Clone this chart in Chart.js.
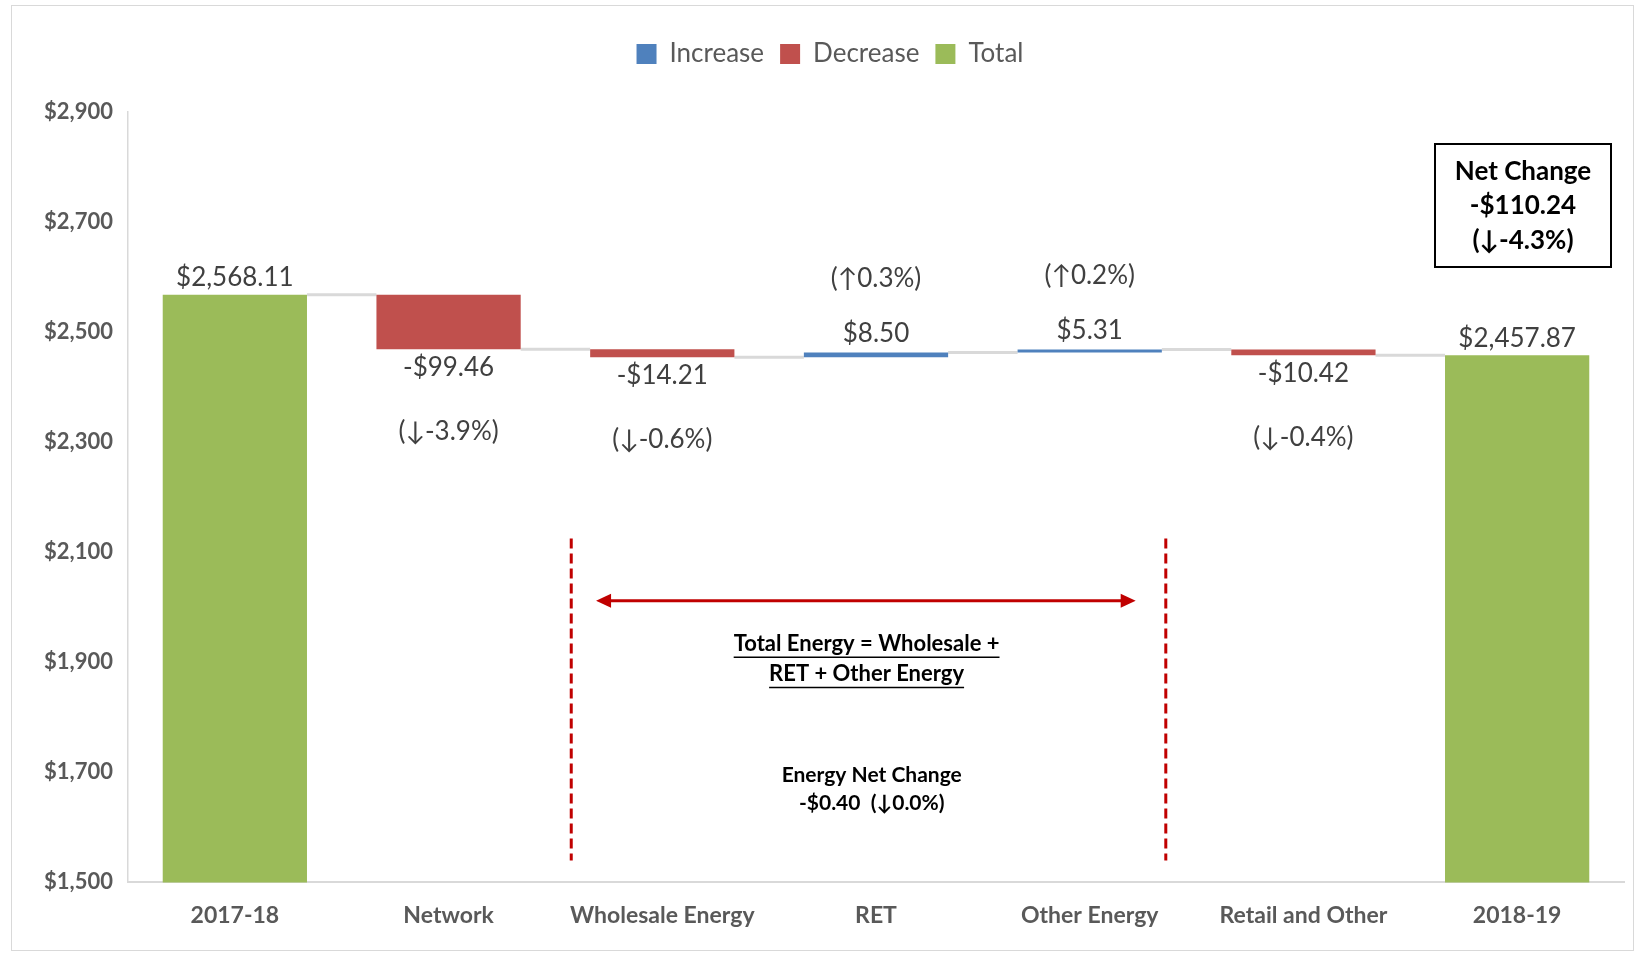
<!DOCTYPE html>
<html>
<head>
<meta charset="utf-8">
<script src="https://cdn.jsdelivr.net/npm/chart.js@4.4.1/dist/chart.umd.min.js"></script>
<style>
html, body { margin: 0; padding: 0; background: #fff; }
#wrap { width: 1637px; height: 953px; }
</style>
</head>
<body>
<div id="wrap"><canvas id="waterfallChart"></canvas></div>
<script>
// chart values
const categories = ['2017-18', 'Network', 'Wholesale Energy', 'RET', 'Other Energy', 'Retail and Other', '2018-19'];
const amounts = [2568.11, -99.46, -14.21, 8.50, 5.31, -10.42, 2457.87];
const isTotal = [true, false, false, false, false, false, true];
const energyGroup = ['Wholesale Energy', 'RET', 'Other Energy'];
const yTickValues = [1500, 1700, 1900, 2100, 2300, 2500, 2700, 2900];

const FONT = 'Lato, "DejaVu Sans", sans-serif';
const LABEL_COLOR = '#404040';
const RED_LINE = '#C00000';

function money(v) {
    const s = '$' + Math.abs(v).toLocaleString('en-US', {minimumFractionDigits: 2, maximumFractionDigits: 2});
    return v < 0 ? '-' + s : s;
}

function pct(v) {
    let p = (v / amounts[0] * 100).toFixed(1);
    if (p === '-0.0') p = '0.0';
    const arrow = v < 0 ? '\u2193' : '\u2191';
    return '(' + arrow + p + '%)';
}

// build the floating bars
const increaseData = categories.map(() => null);
const decreaseData = categories.map(() => null);
const totalData = categories.map(() => null);
const levels = [];
let running = 0;
amounts.forEach((v, i) => {
    if (isTotal[i]) {
        totalData[i] = v;
        running = v;
    } else {
        const start = running;
        const end = running + v;
        if (v >= 0) increaseData[i] = [start, end];
        else decreaseData[i] = [start, end];
        running = end;
    }
    levels.push(running);
});

const netChange = amounts[amounts.length - 1] - amounts[0];
const energyChange = energyGroup.reduce((s, c) => s + amounts[categories.indexOf(c)], 0);

// stretch legend height so plot starts lower
const legendSpacing = {
    id: 'legendSpacing',
    beforeInit(chart) {
        const fit = chart.legend.fit;
        chart.legend.fit = function() {
            fit.call(this);
            this.height += 35;
        };
    }
};

const frame = {
    id: 'frame',
    beforeDraw(chart) {
        const ctx = chart.ctx;
        ctx.save();
        ctx.fillStyle = '#fff';
        ctx.fillRect(0, 0, chart.width, chart.height);
        ctx.strokeStyle = '#d9d9d9';
        ctx.lineWidth = 1;
        ctx.strokeRect(11.5, 5.5, chart.width - 15, chart.height - 8);
        ctx.restore();
    }
};

const connectors = {
    id: 'connectors',
    beforeDatasetsDraw(chart) {
        const ctx = chart.ctx;
        const x = chart.scales.x, y = chart.scales.y;
        const step = x.getPixelForValue(1) - x.getPixelForValue(0);
        const barW = step * 0.675;
        ctx.save();
        ctx.strokeStyle = '#d9d9d9';
        ctx.lineWidth = 3;
        for (let i = 0; i < levels.length - 1; i++) {
            const py = y.getPixelForValue(levels[i]);
            ctx.beginPath();
            ctx.moveTo(x.getPixelForValue(i) + barW / 2, py);
            ctx.lineTo(x.getPixelForValue(i + 1) - barW / 2, py);
            ctx.stroke();
        }
        ctx.restore();
    }
};

function findBar(chart, i) {
    for (let d = 0; d < chart.data.datasets.length; d++) {
        if (chart.data.datasets[d].data[i] != null) return chart.getDatasetMeta(d).data[i];
    }
    return null;
}

const barLabels = {
    id: 'barLabels',
    afterDatasetsDraw(chart) {
        const ctx = chart.ctx;
        ctx.save();
        ctx.fillStyle = LABEL_COLOR;
        ctx.textAlign = 'center';
        ctx.textBaseline = 'middle';
        ctx.font = '26px ' + FONT;
        amounts.forEach((v, i) => {
            const bar = findBar(chart, i);
            const top = Math.min(bar.y, bar.base);
            const bottom = Math.max(bar.y, bar.base);
            if (isTotal[i]) {
                ctx.fillText(money(v), bar.x, top - 17);
            } else if (v >= 0) {
                ctx.fillText(money(v), bar.x, top - 19);
                ctx.fillText(pct(v), bar.x, top - 74);
            } else {
                ctx.fillText(money(v), bar.x, bottom + 18);
                ctx.fillText(pct(v), bar.x, bottom + 82);
            }
        });
        ctx.restore();
    }
};

const notes = {
    id: 'notes',
    afterDraw(chart) {
        const ctx = chart.ctx;
        const x = chart.scales.x, y = chart.scales.y;
        const area = chart.chartArea;
        ctx.save();

        // net change box
        const bw = 176, bh = 123;
        const bx = area.right - 13 - bw, by = area.top + 32;
        ctx.strokeStyle = '#000';
        ctx.lineWidth = 2;
        ctx.strokeRect(bx, by, bw, bh);
        ctx.fillStyle = '#000';
        ctx.textAlign = 'center';
        ctx.textBaseline = 'middle';
        ctx.font = 'bold 26px ' + FONT;
        const cx = bx + bw / 2;
        ctx.fillText('Net Change', cx, by + 28);
        ctx.fillText(money(netChange), cx, by + 62);
        ctx.fillText(pct(netChange), cx, by + 97);

        // dashed bracket lines round the energy group
        ctx.strokeStyle = RED_LINE;
        ctx.lineWidth = 3;
        ctx.setLineDash([10, 5]);
        [1.574, 4.356].forEach(ix => {
            const px = x.getPixelForValue(ix);
            ctx.beginPath();
            ctx.moveTo(px, y.getPixelForValue(2125));
            ctx.lineTo(px, y.getPixelForValue(1540));
            ctx.stroke();
        });
        ctx.setLineDash([]);

        // double arrow
        const ay = y.getPixelForValue(2012);
        const ax1 = x.getPixelForValue(1.69), ax2 = x.getPixelForValue(4.215);
        ctx.beginPath();
        ctx.moveTo(ax1 + 10, ay);
        ctx.lineTo(ax2 - 10, ay);
        ctx.stroke();
        ctx.fillStyle = RED_LINE;
        [[ax1, 1], [ax2, -1]].forEach(([px, dir]) => {
            ctx.beginPath();
            ctx.moveTo(px, ay);
            ctx.lineTo(px + dir * 15, ay - 7);
            ctx.lineTo(px + dir * 15, ay + 7);
            ctx.closePath();
            ctx.fill();
        });

        // underlined caption
        ctx.fillStyle = '#000';
        ctx.strokeStyle = '#000';
        ctx.lineWidth = 1.5;
        ctx.font = 'bold 22px ' + FONT;
        const tx = x.getPixelForValue(2.956);
        [['Total Energy = Wholesale +', 1933], ['RET + Other Energy', 1878]].forEach(([t, v]) => {
            const py = y.getPixelForValue(v);
            ctx.fillText(t, tx, py);
            const w = ctx.measureText(t).width;
            ctx.beginPath();
            ctx.moveTo(tx - w / 2, py + 13);
            ctx.lineTo(tx + w / 2, py + 13);
            ctx.stroke();
        });

        ctx.font = 'bold 21px ' + FONT;
        const ex = x.getPixelForValue(2.98);
        ctx.fillText('Energy Net Change', ex, y.getPixelForValue(1694));
        ctx.fillText(money(energyChange) + '  ' + pct(energyChange), ex, y.getPixelForValue(1643));

        ctx.restore();
    }
};

const waterfallChart = new Chart(document.getElementById('waterfallChart').getContext('2d'), {
    type: 'bar',
    data: {
        labels: categories,
        datasets: [{
            label: 'Increase',
            data: increaseData,
            backgroundColor: '#4F81BD'
        }, {
            label: 'Decrease',
            data: decreaseData,
            backgroundColor: '#C0504D'
        }, {
            label: 'Total',
            data: totalData,
            backgroundColor: '#9BBB59'
        }]
    },
    options: {
        responsive: true,
        maintainAspectRatio: false,
        animation: false,
        layout: {
            padding: {top: 25, left: 36, right: 13, bottom: 5}
        },
        datasets: {
            bar: {grouped: false, categoryPercentage: 1, barPercentage: 0.675}
        },
        plugins: {
            legend: {
                position: 'top',
                labels: {
                    boxWidth: 20,
                    boxHeight: 20,
                    padding: 16,
                    color: '#595959',
                    font: {family: FONT, size: 26}
                }
            },
            tooltip: {enabled: false}
        },
        scales: {
            x: {
                grid: {display: false, drawTicks: false},
                border: {color: '#d9d9d9', width: 2},
                ticks: {
                    color: '#595959',
                    padding: 19,
                    maxRotation: 0,
                    font: {family: FONT, size: 23, weight: 'bold'}
                }
            },
            y: {
                min: 1500,
                max: 2900,
                afterBuildTicks: axis => { axis.ticks = yTickValues.map(v => ({value: v})); },
                afterFit: axis => { axis.width = 92; },
                grid: {display: false, drawTicks: false},
                border: {color: '#d9d9d9', width: 1.5},
                ticks: {
                    color: '#595959',
                    padding: 15,
                    font: {family: FONT, size: 22, weight: 'bold'},
                    callback: v => '$' + v.toLocaleString('en-US')
                }
            }
        }
    },
    plugins: [legendSpacing, frame, connectors, barLabels, notes]
});
</script>
</body>
</html>
